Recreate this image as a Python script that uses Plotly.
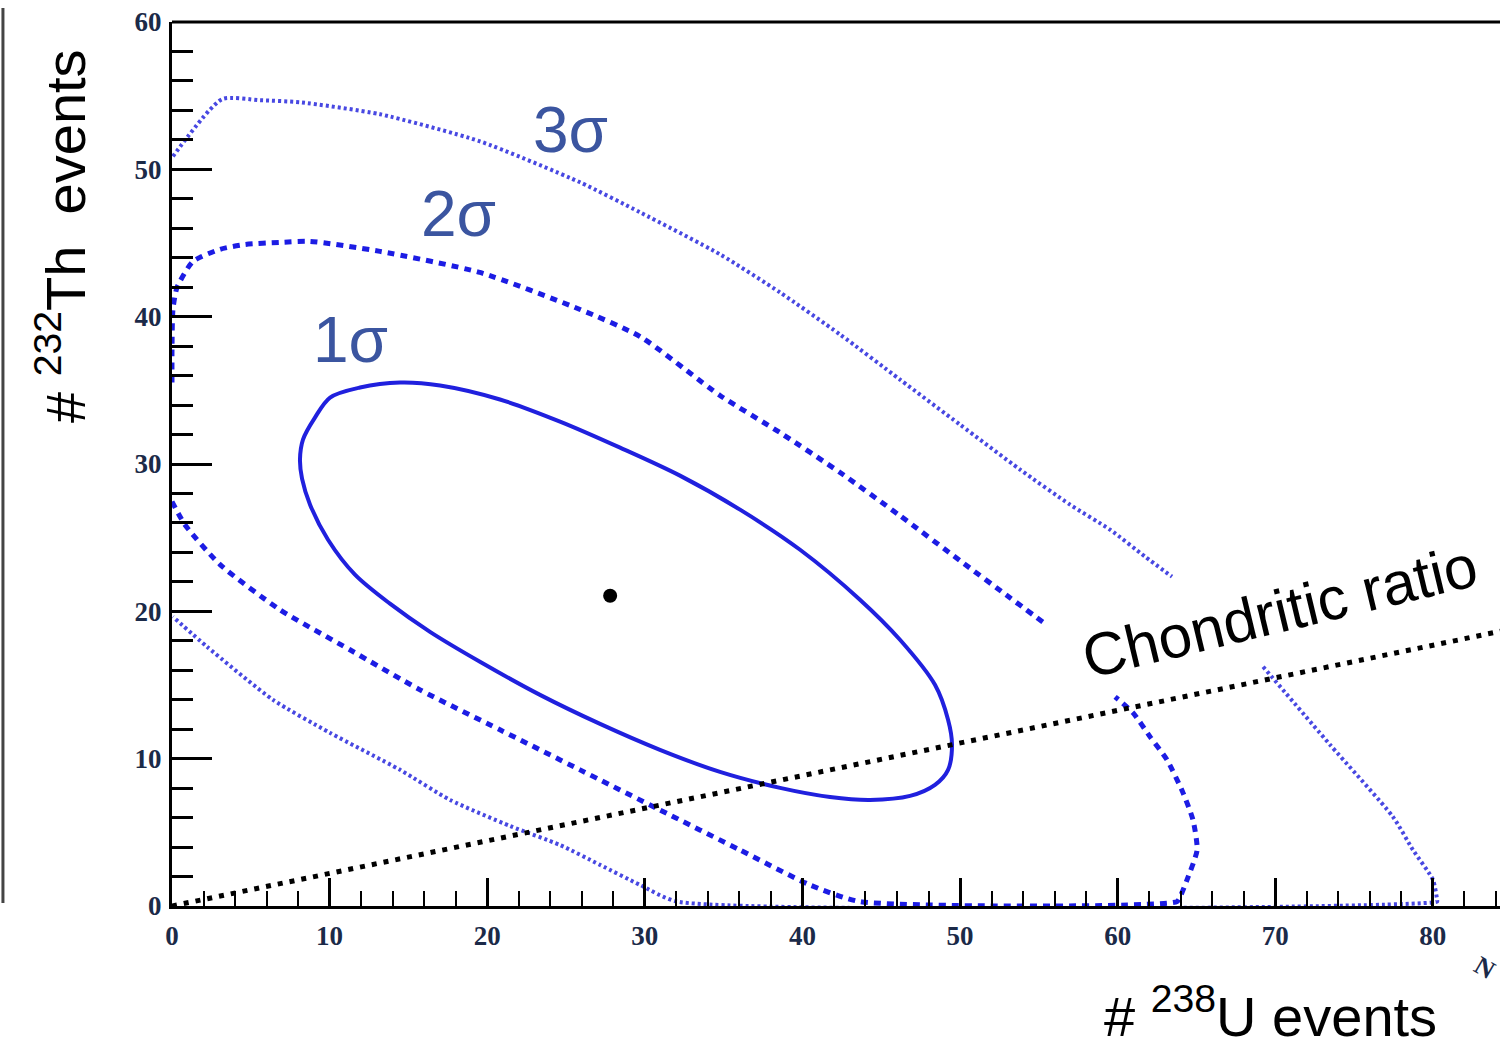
import plotly.graph_objects as go

# ---------------- data ----------------
# best-fit point
best_u = [27.8]
best_th = [21.06]

# 1 sigma contour (closed)
s1_u = [8.12, 8.31, 9.07, 10.03, 11.93, 14.47, 17.01, 20.81, 24.62, 28.43, 32.23, 36.04,
        39.85, 43.65, 46.19, 48.41, 49.24, 49.49, 49.24, 48.41, 46.83, 44.29, 41.75, 38.58,
        34.77, 30.96, 27.16, 23.35, 19.54, 16.37, 13.83, 11.61, 9.90, 8.76, 8.25, 8.12]
s1_th = [30.30, 31.66, 33.15, 34.51, 35.19, 35.53, 35.33, 34.38, 32.88, 31.11, 29.21, 26.90,
         24.18, 20.79, 18.07, 15.01, 12.64, 10.94, 9.24, 8.22, 7.47, 7.20, 7.40, 8.02,
         9.10, 10.60, 12.36, 14.33, 16.58, 18.61, 20.52, 22.49, 24.86, 27.24, 29.01, 30.30]

# 2 sigma contour: upper arc
s2a_u = [0.0, 0.0, 0.06, 0.32, 1.33, 3.05, 4.63, 6.85, 8.76, 13.20, 19.54, 25.89, 29.70,
         34.77, 38.58, 42.39, 46.19, 50.0, 53.17, 55.40]
s2a_th = [35.53, 37.77, 40.49, 41.98, 43.75, 44.57, 44.90, 45.04, 45.11, 44.43, 43.00, 40.49,
          38.65, 34.65, 32.13, 29.42, 26.49, 23.44, 20.92, 19.16]
# 2 sigma contour: lower arc
s2b_u = [0.0, 0.82, 3.05, 6.85, 11.29, 15.74, 20.81, 25.89, 30.96, 36.04, 40.48, 43.65,
         63.77, 63.96, 64.40, 65.04, 64.78, 64.15, 63.13, 62.06, 60.98, 59.84]
s2b_th = [27.45, 25.88, 23.17, 20.11, 17.39, 14.67, 11.96, 9.24, 6.52, 3.80, 1.43, 0.3,
          0.3, 0.61, 1.77, 3.80, 5.84, 7.68, 9.92, 11.48, 13.11, 14.20]

# 3 sigma contour: upper arc
s3a_u = [0.06, 3.17, 5.58, 8.12, 13.20, 19.54, 25.89, 29.70, 34.77, 38.58, 42.39, 46.19,
         50.0, 53.81, 56.98, 59.52, 61.74, 63.45]
s3a_th = [50.88, 54.76, 54.69, 54.55, 53.74, 51.90, 49.12, 47.08, 44.23, 41.64, 38.79, 35.73,
          32.67, 29.62, 27.24, 25.54, 23.71, 22.35]
# 3 sigma contour: lower arc
s3b_u = [69.23, 73.48, 77.47, 78.74, 80.01, 80.27, 80.27, 32.04, 29.70, 27.16, 24.62, 21.45,
         17.64, 14.47, 10.03, 6.41, 2.22, 0.06]
s3b_th = [16.24, 10.94, 6.05, 3.80, 1.77, 0.41, 0.3, 0.3, 1.43, 2.79, 4.14, 5.43,
          7.20, 9.24, 11.75, 13.99, 17.60, 19.63]

# chondritic ratio line
chond_u = [0.0, 84.3]
chond_th = [0.0, 18.65]

x_range = [0, 84.26]
y_range = [0, 60]

BLUE1 = "rgb(32,32,222)"
BLUE2 = "rgb(28,28,228)"
BLUE3 = "rgb(72,72,226)"
LABEL_BLUE = "#3b55a0"
TICK_COL = "#1b2a48"

fig = go.Figure()

fig.add_trace(go.Scatter(x=s3a_u, y=s3a_th, mode="lines",
                         line=dict(color=BLUE3, width=4, dash="3px,3px", shape="spline", smoothing=0.6),
                         hoverinfo="skip"))
fig.add_trace(go.Scatter(x=s3b_u, y=s3b_th, mode="lines",
                         line=dict(color=BLUE3, width=4, dash="3px,3px", shape="spline", smoothing=0.6),
                         hoverinfo="skip"))
fig.add_trace(go.Scatter(x=s2a_u, y=s2a_th, mode="lines",
                         line=dict(color=BLUE2, width=5, dash="7px,6px", shape="spline", smoothing=0.6),
                         hoverinfo="skip"))
fig.add_trace(go.Scatter(x=s2b_u, y=s2b_th, mode="lines",
                         line=dict(color=BLUE2, width=5, dash="7px,6px", shape="spline", smoothing=0.6),
                         hoverinfo="skip"))
fig.add_trace(go.Scatter(x=s1_u, y=s1_th, mode="lines",
                         line=dict(color=BLUE1, width=4, shape="spline", smoothing=0.9),
                         hoverinfo="skip"))
fig.add_trace(go.Scatter(x=chond_u, y=chond_th, mode="lines",
                         line=dict(color="black", width=5, dash="5px,7px"),
                         hoverinfo="skip"))
fig.add_trace(go.Scatter(x=best_u, y=best_th, mode="markers",
                         marker=dict(color="black", size=14),
                         hoverinfo="skip"))

ann_font = dict(family="Liberation Sans, Arial, sans-serif", color=LABEL_BLUE, size=64)
sans_black = dict(family="Liberation Sans, Arial, sans-serif", color="black", size=56)
annotations = [
    dict(x=11.3, y=38.4, xref="x", yref="y", text="1σ", showarrow=False, font=ann_font,
         xanchor="center", yanchor="middle"),
    dict(x=18.2, y=47.0, xref="x", yref="y", text="2σ", showarrow=False, font=ann_font,
         xanchor="center", yanchor="middle"),
    dict(x=25.3, y=52.7, xref="x", yref="y", text="3σ", showarrow=False, font=ann_font,
         xanchor="center", yanchor="middle"),
    dict(x=70.3, y=20.0, xref="x", yref="y", text="Chondritic ratio", showarrow=False,
         textangle=-13.5, xanchor="center", yanchor="middle",
         font=dict(family="Liberation Sans, Arial, sans-serif", color="black", size=60)),
    dict(x=-0.0828, y=0.758, xref="paper", yref="paper", text="# <sup>232</sup>Th  events",
         showarrow=False, textangle=-90, xanchor="center", yanchor="middle", font=sans_black),
    dict(x=0.827, y=-0.12, xref="paper", yref="paper", text="# <sup>238</sup>U events",
         showarrow=False, xanchor="center", yanchor="middle", font=sans_black),
    dict(x=0.988, y=-0.070, xref="paper", yref="paper", text="N", showarrow=False, textangle=30,
         xanchor="center", yanchor="middle",
         font=dict(family="Liberation Serif, serif", color=TICK_COL, size=26, weight="bold")),
]

tickfont = dict(family="Liberation Serif, Times New Roman, serif", size=27, color=TICK_COL, weight="bold")

fig.update_layout(
    width=1500, height=1048,
    margin=dict(l=172, r=0, t=22, b=142),
    paper_bgcolor="white", plot_bgcolor="white",
    showlegend=False,
    annotations=annotations,
    xaxis=dict(range=x_range, showline=True, linewidth=3, linecolor="black",
               ticks="inside", ticklen=28, tickwidth=3, tickcolor="black",
               tick0=0, dtick=10, showgrid=False, zeroline=False,
               minor=dict(ticks="inside", ticklen=15, tickwidth=2, tickcolor="black", dtick=2, showgrid=False),
               tickfont=tickfont, ticklabelstandoff=4),
    yaxis=dict(range=y_range, showline=True, linewidth=3, linecolor="black",
               ticks="inside", ticklen=40, tickwidth=3, tickcolor="black",
               tick0=0, dtick=10, showgrid=False, zeroline=False,
               minor=dict(ticks="inside", ticklen=21, tickwidth=3, tickcolor="black", dtick=2, showgrid=False),
               tickfont=tickfont, ticklabelstandoff=2),
    shapes=[
        dict(type="line", xref="paper", yref="paper", x0=0, x1=1, y0=1, y1=1,
             line=dict(color="black", width=3)),
        dict(type="line", xref="paper", yref="paper", x0=-0.1273, x1=-0.1273, y0=0.0034, y1=1.0158,
             line=dict(color="#444444", width=3)),
    ],
)

fig.write_html("out.html", config={"displayModeBar": False},
               post_script="document.body.style.margin='0';document.body.style.padding='0';")
